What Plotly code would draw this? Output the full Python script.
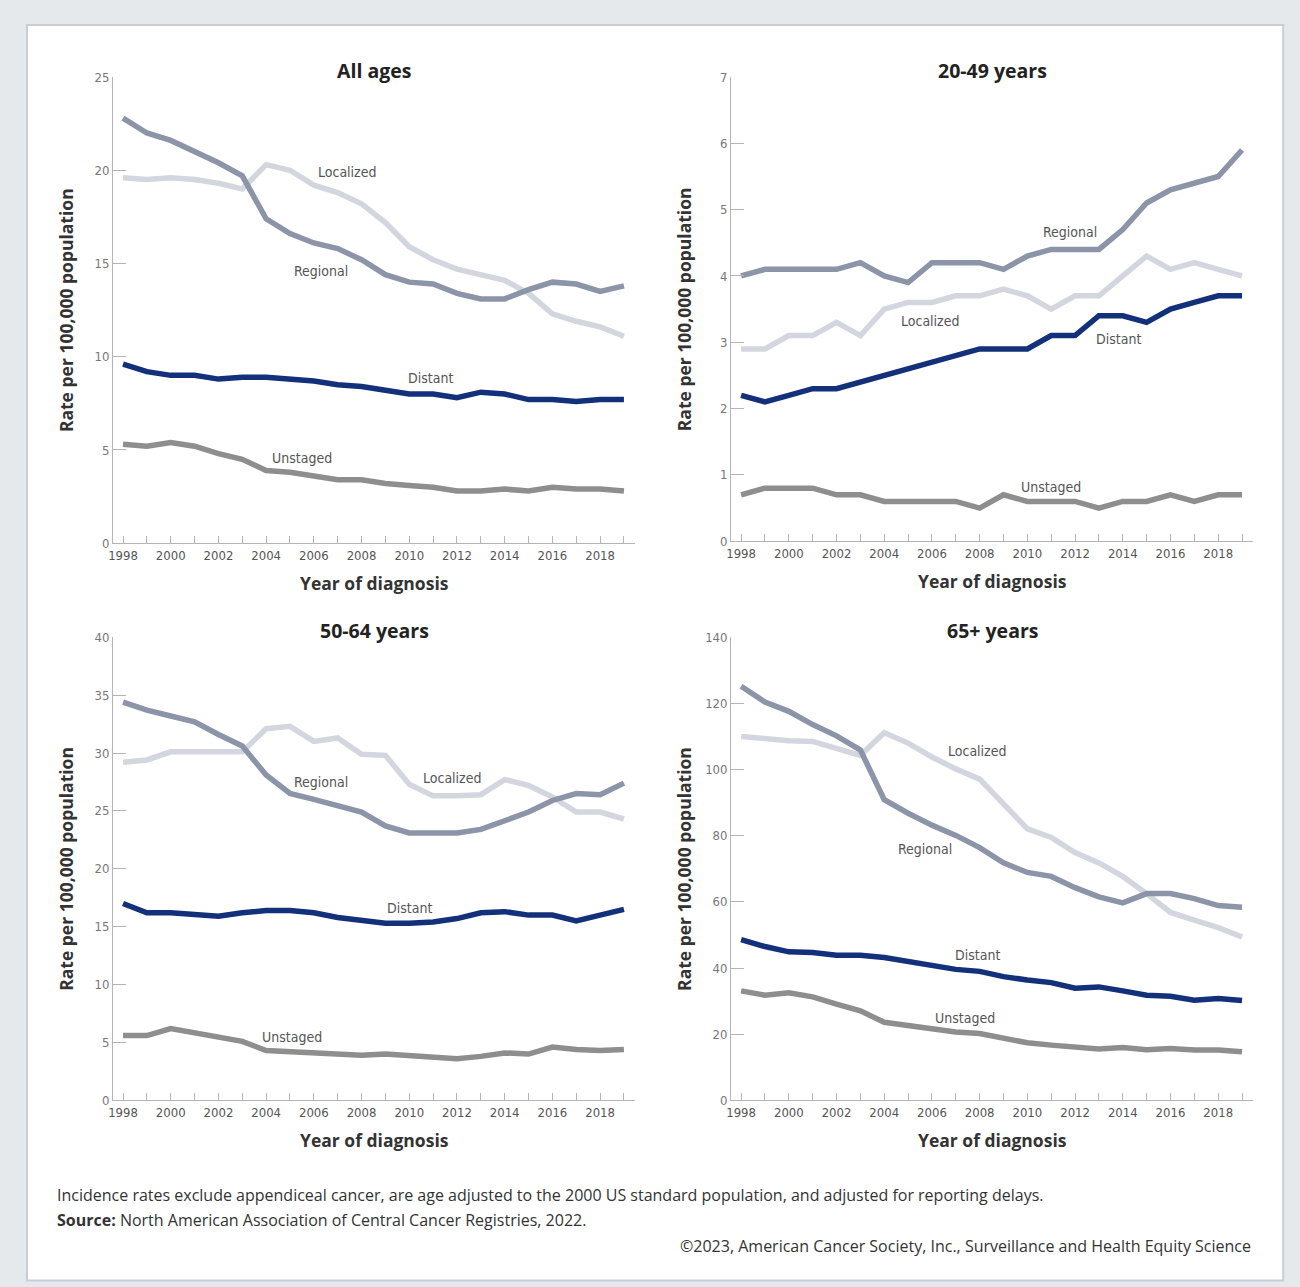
import plotly.graph_objects as go

W, H = 1300, 1287

years = list(range(1998, 2020))

# All ages
all_regional = [22.8, 22.0, 21.6, 21.0, 20.4, 19.7, 17.4, 16.6, 16.1, 15.8, 15.2, 14.4, 14.0, 13.9, 13.4, 13.1, 13.1, 13.6, 14.0, 13.9, 13.5, 13.8]
all_localized = [19.6, 19.5, 19.6, 19.5, 19.3, 19.0, 20.3, 20.0, 19.2, 18.8, 18.2, 17.2, 15.9, 15.2, 14.7, 14.4, 14.1, 13.4, 12.3, 11.9, 11.6, 11.1]
all_distant = [9.6, 9.2, 9.0, 9.0, 8.8, 8.9, 8.9, 8.8, 8.7, 8.5, 8.4, 8.2, 8.0, 8.0, 7.8, 8.1, 8.0, 7.7, 7.7, 7.6, 7.7, 7.7]
all_unstaged = [5.3, 5.2, 5.4, 5.2, 4.8, 4.5, 3.9, 3.8, 3.6, 3.4, 3.4, 3.2, 3.1, 3.0, 2.8, 2.8, 2.9, 2.8, 3.0, 2.9, 2.9, 2.8]

# 20-49 years
y20_regional = [4.0, 4.1, 4.1, 4.1, 4.1, 4.2, 4.0, 3.9, 4.2, 4.2, 4.2, 4.1, 4.3, 4.4, 4.4, 4.4, 4.7, 5.1, 5.3, 5.4, 5.5, 5.9]
y20_localized = [2.9, 2.9, 3.1, 3.1, 3.3, 3.1, 3.5, 3.6, 3.6, 3.7, 3.7, 3.8, 3.7, 3.5, 3.7, 3.7, 4.0, 4.3, 4.1, 4.2, 4.1, 4.0]
y20_distant = [2.2, 2.1, 2.2, 2.3, 2.3, 2.4, 2.5, 2.6, 2.7, 2.8, 2.9, 2.9, 2.9, 3.1, 3.1, 3.4, 3.4, 3.3, 3.5, 3.6, 3.7, 3.7]
y20_unstaged = [0.7, 0.8, 0.8, 0.8, 0.7, 0.7, 0.6, 0.6, 0.6, 0.6, 0.5, 0.7, 0.6, 0.6, 0.6, 0.5, 0.6, 0.6, 0.7, 0.6, 0.7, 0.7]

# 50-64 years
y50_regional = [34.4, 33.7, 33.2, 32.7, 31.6, 30.6, 28.1, 26.5, 26.0, 25.4, 24.9, 23.7, 23.1, 23.1, 23.1, 23.4, 24.2, 24.9, 25.9, 26.5, 26.4, 27.4]
y50_localized = [29.2, 29.4, 30.1, 30.1, 30.0, 30.1, 32.1, 32.3, 31.0, 31.3, 29.9, 29.8, 27.3, 26.3, 26.3, 26.4, 27.7, 27.2, 26.2, 24.9, 24.9, 24.3]
y50_distant = [17.0, 16.2, 16.2, 16.0, 15.9, 16.2, 16.4, 16.4, 16.2, 15.8, 15.5, 15.3, 15.3, 15.4, 15.7, 16.2, 16.3, 16.0, 16.0, 15.5, 16.0, 16.5]
y50_unstaged = [5.6, 5.6, 6.2, 5.8, 5.5, 5.1, 4.3, 4.2, 4.2, 4.0, 3.9, 4.0, 3.9, 3.8, 3.6, 3.8, 4.1, 4.0, 4.6, 4.4, 4.3, 4.4]

# 65+ years
y65_regional = [125.2, 120.4, 117.6, 113.6, 110.2, 105.9, 90.9, 86.8, 83.2, 80.1, 76.4, 71.8, 68.9, 67.7, 64.3, 61.5, 59.7, 62.5, 62.5, 61.0, 58.9, 58.4]
y65_localized = [110.0, 109.3, 108.7, 108.5, 106.6, 104.3, 111.1, 108.0, 103.8, 100.2, 97.1, 89.4, 82.1, 79.5, 74.9, 71.8, 67.7, 62.5, 56.8, 54.5, 52.2, 49.4]
y65_distant = [48.6, 46.5, 44.9, 44.7, 43.9, 43.9, 43.2, 42.1, 41.1, 39.6, 39.0, 37.4, 36.4, 35.6, 33.9, 34.3, 33.1, 31.8, 31.5, 30.3, 30.8, 30.2]
y65_unstaged = [33.1, 31.8, 32.5, 31.3, 29.1, 27.1, 23.6, 22.7, 21.5, 20.7, 20.2, 18.6, 17.4, 16.7, 16.0, 15.5, 16.0, 15.3, 15.7, 15.2, 15.2, 14.7]

panel_titles = ["All ages", "20-49 years", "50-64 years", "65+ years"]
stage_names = ["Localized", "Regional", "Distant", "Unstaged"]
y_ticks = [list(range(0, 26, 5)), list(range(0, 8, 1)), list(range(0, 41, 5)), list(range(0, 141, 20))]
y_max = [25, 7, 40, 140]

panels = [
    {"Localized": all_localized, "Regional": all_regional, "Distant": all_distant, "Unstaged": all_unstaged},
    {"Localized": y20_localized, "Regional": y20_regional, "Distant": y20_distant, "Unstaged": y20_unstaged},
    {"Localized": y50_localized, "Regional": y50_regional, "Distant": y50_distant, "Unstaged": y50_unstaged},
    {"Localized": y65_localized, "Regional": y65_regional, "Distant": y65_distant, "Unstaged": y65_unstaged},
]

# label anchor positions (year, value) per panel
label_pos = [
    {"Localized": (2007.4, 19.9), "Regional": (2006.3, 14.6), "Distant": (2010.9, 8.85), "Unstaged": (2005.5, 4.56)},
    {"Localized": (2005.9, 3.32), "Regional": (2011.8, 4.66), "Distant": (2013.8, 3.05), "Unstaged": (2011.0, 0.81)},
    {"Localized": (2011.8, 27.8), "Regional": (2006.3, 27.5), "Distant": (2010.0, 16.6), "Unstaged": (2005.1, 5.44)},
    {"Localized": (2007.9, 105.5), "Regional": (2005.7, 75.9), "Distant": (2007.9, 43.8), "Unstaged": (2007.4, 24.8)},
]

colors = {"Localized": "#d3d6de", "Regional": "#8c94a8", "Distant": "#13307a", "Unstaged": "#8e8e8e"}
draw_order = ["Localized", "Regional", "Unstaged", "Distant"]


# screen-pixel -> paper fraction (with small correction for the capture)
def PX(x):
    return ((x - 5.0) / 0.996) / W


def PY(y):
    return 1 - ((y - 7.0) / 0.988) / H


# pixel geometry: (x_left, x_right, y_top, y_bottom)
geom = [(113, 635, 77, 543), (731, 1253, 77, 541), (113, 635, 637, 1100), (731, 1253, 637, 1100)]

NARROW = "Liberation Sans Narrow, DejaVu Sans Condensed, Arial Narrow, sans-serif"
BOLD = "Open Sans, Noto Sans, sans-serif"
FOOT = "Open Sans, Noto Sans, sans-serif"

fig = go.Figure()
layout = dict(
    width=W, height=H, autosize=False,
    margin=dict(l=0, r=0, t=0, b=0),
    paper_bgcolor="#e6e9ec", plot_bgcolor="rgba(0,0,0,0)",
    showlegend=False,
)
annotations = []
xtickvals = years
xticktext = [str(y) if y % 2 == 0 else "" for y in years]

for i in range(4):
    xl, xr, yt, yb = geom[i]
    xa = "xaxis" if i == 0 else f"xaxis{i+1}"
    ya = "yaxis" if i == 0 else f"yaxis{i+1}"
    xr_ref = "x" if i == 0 else f"x{i+1}"
    yr_ref = "y" if i == 0 else f"y{i+1}"
    ppy = 23.85
    x0 = 1998 - (10 / ppy)
    x1 = x0 + (xr - xl) / ppy
    layout[xa] = dict(
        domain=[PX(xl), PX(xr)], anchor=yr_ref, range=[x0, x1],
        showline=True, linecolor="#b4b4b4", linewidth=1,
        ticks="inside", ticklen=7, tickcolor="#b4b4b4", tickwidth=1,
        tickvals=xtickvals, ticktext=xticktext,
        tickfont=dict(family=NARROW, size=13, color="#555555"),
        showgrid=False, zeroline=False,
    )
    layout[ya] = dict(
        domain=[PY(yb), PY(yt)], anchor=xr_ref, range=[0, y_max[i]],
        showline=True, linecolor="#b4b4b4", linewidth=1,
        ticks="inside", ticklen=13, tickcolor="#b4b4b4", tickwidth=1,
        tickvals=y_ticks[i],
        tickfont=dict(family=NARROW, size=13, color="#777777"),
        showgrid=False, zeroline=False,
    )
    for s in draw_order:
        fig.add_trace(go.Scatter(
            x=years, y=panels[i][s], mode="lines", name=s,
            line=dict(color=colors[s], width=5.5),
            xaxis=xr_ref, yaxis=yr_ref, hoverinfo="skip",
        ))
    for s in stage_names:
        lx, ly = label_pos[i][s]
        annotations.append(dict(
            x=lx, y=ly, xref=xr_ref, yref=yr_ref, text=s, showarrow=False,
            font=dict(family=NARROW, size=14, color="#555555"),
        ))
    cx = PX((xl + xr) / 2)
    annotations.append(dict(
        x=cx, y=PY(yt - 7), xref="paper", yref="paper", text=f"<b>{panel_titles[i]}</b>",
        showarrow=False, font=dict(family=BOLD, size=19.5, color="#222222"),
        xanchor="center", yanchor="middle",
    ))
    annotations.append(dict(
        x=cx, y=PY(yb + 40), xref="paper", yref="paper", text="<b>Year of diagnosis</b>",
        showarrow=False, font=dict(family=BOLD, size=17.5, color="#333333"),
        xanchor="center", yanchor="middle",
    ))
    annotations.append(dict(
        x=PX(xl - 47), y=PY((yt + yb) / 2), xref="paper", yref="paper",
        text="<b>Rate per 100,000 population</b>", textangle=-90,
        showarrow=False, font=dict(family=BOLD, size=17.5, color="#333333"),
        xanchor="center", yanchor="middle",
    ))

annotations.append(dict(
    x=PX(55), y=PY(1195), xref="paper", yref="paper", xanchor="left", yanchor="middle",
    text="Incidence rates exclude appendiceal cancer, are age adjusted to the 2000 US standard population, and adjusted for reporting delays.",
    showarrow=False, font=dict(family=FOOT, size=16, color="#333333"),
))
annotations.append(dict(
    x=PX(55), y=PY(1220), xref="paper", yref="paper", xanchor="left", yanchor="middle",
    text="<b>Source:</b> North American Association of Central Cancer Registries, 2022.",
    showarrow=False, font=dict(family=FOOT, size=16, color="#333333"),
))
annotations.append(dict(
    x=PX(1253), y=PY(1246), xref="paper", yref="paper", xanchor="right", yanchor="middle",
    text="©2023, American Cancer Society, Inc., Surveillance and Health Equity Science",
    showarrow=False, font=dict(family=FOOT, size=16, color="#333333"),
))

layout["annotations"] = annotations
layout["shapes"] = [dict(
    type="rect", xref="paper", yref="paper", layer="below",
    x0=PX(27), x1=PX(1283), y0=PY(1280), y1=PY(25),
    fillcolor="#ffffff", line=dict(color="#c9ced6", width=2),
)]
fig.update_layout(**layout)
fig.write_html(
    "out.html",
    config={"displayModeBar": False},
    post_script="document.body.style.margin='0px';document.body.style.padding='0px';document.body.style.overflow='hidden';",
)
